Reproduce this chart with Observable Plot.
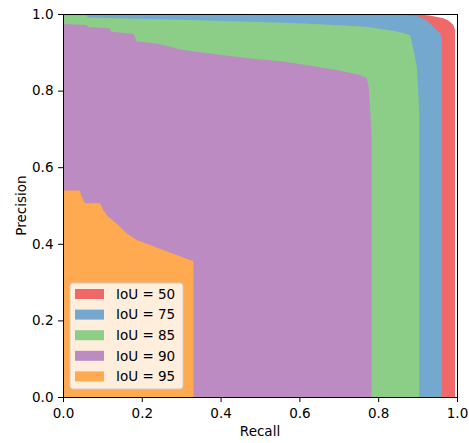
<!DOCTYPE html>
<html>
<head>
<meta charset="utf-8">
<script src="https://cdn.jsdelivr.net/npm/d3@7"></script>
<script src="https://cdn.jsdelivr.net/npm/@observablehq/plot@0.6"></script>
<style>
  body { margin: 0; background: #fff; }
  #chart { position: relative; width: 469px; height: 443px; }
  #chart svg text { font-family: "DejaVu Sans", sans-serif !important; font-size: 13.5px !important; fill: #000; }
</style>
</head>
<body>
<div id="chart"></div>
<script>
// ---- data ----
const seriesLabels = ["IoU = 50", "IoU = 75", "IoU = 85", "IoU = 90", "IoU = 95"];
const seriesColors = ["#f06868", "#74a8cf", "#8ccd88", "#bc8bc2", "#ffaa50"];

const recall50    = [0, 0.889, 0.931, 0.965, 0.978, 0.991, 0.995, 0.995];
const precision50 = [1.0, 1.0, 0.996, 0.989, 0.983, 0.971, 0.958, 0];

const recall75    = [0, 0.85, 0.898, 0.923, 0.94, 0.957, 0.961, 0.961];
const precision75 = [0.998, 0.997, 0.995, 0.984, 0.967, 0.95, 0.94, 0];

const recall85    = [0, 0.06, 0.063, 0.348, 0.602, 0.772, 0.848, 0.881, 0.888, 0.898, 0.901, 0.904, 0.904];
const precision85 = [0.997, 0.997, 0.991, 0.984, 0.976, 0.967, 0.954, 0.945, 0.915, 0.862, 0.81, 0.75, 0];

const recall90    = [0, 0.06, 0.063, 0.119, 0.121, 0.179, 0.187, 0.238, 0.305, 0.348, 0.475, 0.559, 0.644, 0.695, 0.754, 0.771, 0.776, 0.779, 0.783, 0.783];
const precision90 = [0.974, 0.971, 0.966, 0.963, 0.954, 0.948, 0.928, 0.923, 0.906, 0.9, 0.884, 0.876, 0.862, 0.854, 0.841, 0.832, 0.81, 0.758, 0.689, 0];

const recall95    = [0, 0.043, 0.047, 0.056, 0.094, 0.102, 0.114, 0.136, 0.162, 0.187, 0.221, 0.254, 0.289, 0.322, 0.331, 0.331];
const precision95 = [0.539, 0.539, 0.523, 0.506, 0.506, 0.488, 0.471, 0.453, 0.427, 0.41, 0.397, 0.384, 0.371, 0.358, 0.355, 0];

const axisTicks = [0, 0.2, 0.4, 0.6, 0.8, 1.0];

// ---- build table ----
const curves = [
  [recall50, precision50], [recall75, precision75], [recall85, precision85],
  [recall90, precision90], [recall95, precision95]
];
const rows = [];
curves.forEach(([r, p], i) => {
  r.forEach((v, j) => rows.push({series: seriesLabels[i], recall: v, precision: p[j]}));
});

const font = "DejaVu Sans, sans-serif";

const plot = Plot.plot({
  width: 469,
  height: 443,
  marginLeft: 63,
  marginRight: 12,
  marginTop: 14,
  marginBottom: 46,
  style: {fontFamily: font, fontSize: "13.5px", color: "#000", background: "#fff"},
  x: {domain: [0, 1], label: null},
  y: {domain: [0, 1], label: null},
  color: {domain: seriesLabels, range: seriesColors},
  marks: [
    ...seriesLabels.map(s => Plot.areaY(rows.filter(d => d.series === s), {
      x: "recall", y: "precision", fill: "series", fillOpacity: 1
    })),
    Plot.axisX({ticks: axisTicks, tickFormat: d3.format(".1f"), tickSize: 5, tickPadding: 6, label: null, stroke: "#000"}),
    Plot.axisY({ticks: axisTicks, tickFormat: d3.format(".1f"), tickSize: 5, tickPadding: 5, label: null, stroke: "#000"}),
    Plot.frame({stroke: "#000", strokeWidth: 1})
  ]
});

document.getElementById("chart").appendChild(plot);

const svg = d3.select(plot);

// ---- axis titles and legend ----
svg.append("text")
  .attr("x", (63 + 457) / 2).attr("y", 436)
  .attr("text-anchor", "middle")
  .text("Recall");
svg.append("text")
  .attr("transform", `translate(26,${(14 + 397) / 2}) rotate(-90)`)
  .attr("text-anchor", "middle")
  .text("Precision");

const lg = svg.append("g").attr("transform", "translate(70,283)");
lg.append("rect")
  .attr("x", 0).attr("y", 0).attr("width", 113).attr("height", 106)
  .attr("rx", 3).attr("fill", "#fff").attr("fill-opacity", 0.8)
  .attr("stroke", "#ccc").attr("stroke-width", 1);
seriesLabels.forEach((s, i) => {
  const cy = 11 + i * 20.6;
  lg.append("rect")
    .attr("x", 5).attr("y", cy - 5).attr("width", 29).attr("height", 10)
    .attr("fill", seriesColors[i]);
  lg.append("text")
    .attr("x", 46).attr("y", cy).attr("dy", "0.36em")
    .attr("text-anchor", "start")
    .text(s);
});
</script>
</body>
</html>
